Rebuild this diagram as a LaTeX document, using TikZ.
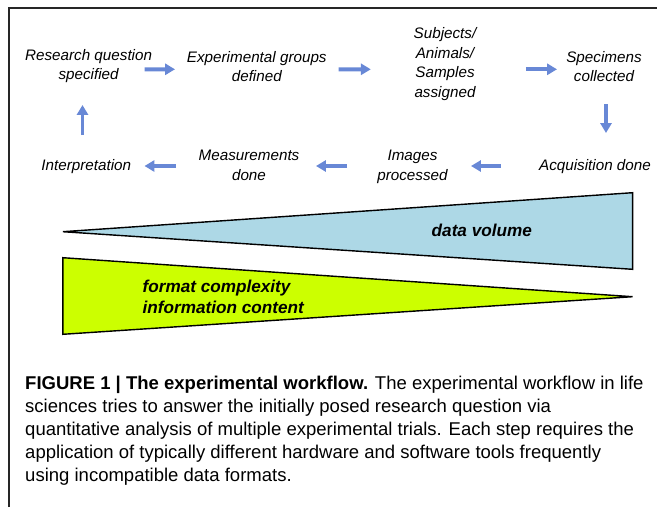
\documentclass[tikz,border=0pt]{standalone}
\usepackage{fontspec}
\setmainfont{Liberation Sans}
\usetikzlibrary{arrows.meta}
\definecolor{flowblue}{RGB}{104,136,214}
\definecolor{volblue}{RGB}{173,216,230}
\definecolor{cplxgreen}{RGB}{204,255,0}

\begin{document}
\begin{tikzpicture}[x=0.03cm,y=-0.03cm,
    stage/.style={font=\fontsize{13}{16.75}\selectfont\itshape, align=center, inner sep=0pt},
    flow/.style={draw=flowblue, line width=3.4pt, -{Triangle[length=8.5pt,width=9.5pt]}},
    wedge/.style={draw=black, line width=1.2pt},
    wedgetext/.style={font=\fontsize{14.65}{18.1}\selectfont\bfseries\itshape, inner sep=0pt},
    captext/.style={font=\fontsize{15.8}{19.56}\selectfont, align=left, inner sep=0pt}
]
\useasboundingbox (0,0) rectangle (657,507);
\draw[line width=1.4pt, black!85] (9,507) -- (9,8) -- (657,8);

\node[stage] (rq) at (88.6,66.1) {Research question\\specified};
\node[stage] (eg) at (256.8,66.4) {Experimental groups\\defined};
\node[stage] (sa) at (445,64.1) {Subjects/\\Animals/\\Samples\\assigned};
\node[stage] (sc) at (604,66.5) {Specimens\\collected};
\node[stage] (ae) at (595,166.5) {Acquisition done};
\node[stage] (ip) at (412.5,167.1) {Images\\processed};
\node[stage] (md) at (249,165.5) {Measurements\\done};
\node[stage] (it) at (86.3,166.5) {Interpretation};

\draw[flow] ([shift={(55.9,3.2)}]rq.center) -- ([shift={(-81.8,2.9)}]eg.center);
\draw[flow] ([shift={(81.7,2.9)}]eg.center) -- ([shift={(-74.2,5.2)}]sa.center);
\draw[flow] ([shift={(80.8,5.2)}]sa.center) -- ([shift={(-47,2.8)}]sc.center);
\draw[flow] ([shift={(2,37.5)}]sc.center) -- ([shift={(11,-33.5)}]ae.center);
\draw[flow] ([shift={(-94.4,-0.5)}]ae.center) -- ([shift={(58.5,-1.1)}]ip.center);
\draw[flow] ([shift={(-65.5,-1.1)}]ip.center) -- ([shift={(67,0.5)}]md.center);
\draw[flow] ([shift={(-73,0.5)}]md.center) -- ([shift={(58.2,-0.5)}]it.center);
\draw[flow] ([shift={(-3.8,-31.5)}]it.center) -- ([shift={(-6.1,38.9)}]rq.center);

\filldraw[wedge, fill=volblue] (62.8,231.7) -- (632.6,192.7) -- (632.6,269.3) -- cycle;
\filldraw[wedge, fill=cplxgreen] (62.8,257.7) -- (632.6,296.7) -- (62.8,334.3) -- cycle;
\node[wedgetext] (dv) at (481.8,230.5) {data volume};
\node[wedgetext, align=left, anchor=west] (fc) at (142.4,296.7) {format complexity\\information content};

\node[captext, anchor=north west] (cap) at (25,375.7) {\textbf{FIGURE 1 | The experimental workflow.} The experimental workflow in life\\
sciences tries to answer the initially posed research question via\\
quantitative analysis of multiple experimental trials. Each step requires the\\
application of typically different hardware and software tools frequently\\
using incompatible data formats.};
\end{tikzpicture}
\end{document}
